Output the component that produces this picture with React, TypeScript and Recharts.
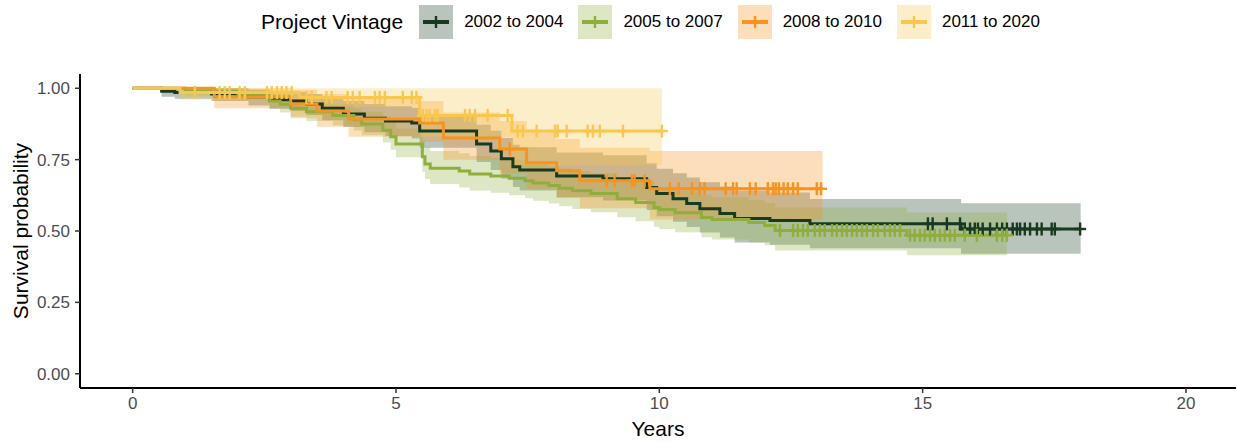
import { ComposedChart, Area, Line, Scatter, XAxis, YAxis, Legend } from 'recharts'

const FONT = '"Liberation Sans", Arial, sans-serif'

// 2002 to 2004
const t1 = [0, 0.55, 0.8, 1.5, 2.2, 2.6, 3.0, 3.3, 3.6, 4.0, 4.4, 4.8, 5.3, 5.45, 6.53, 6.8, 7.0, 7.22, 7.35, 8.05, 8.93, 9.76, 9.95, 10.26, 10.52, 10.77, 11.15, 11.43, 12.1, 12.86, 15.73, 18.0]
const s1 = [1, 0.99, 0.985, 0.98, 0.97, 0.96, 0.955, 0.945, 0.93, 0.91, 0.895, 0.885, 0.878, 0.85, 0.805, 0.78, 0.753, 0.725, 0.714, 0.693, 0.683, 0.652, 0.631, 0.613, 0.596, 0.578, 0.561, 0.544, 0.537, 0.525, 0.507, 0.507]
const lo1 = [1, 0.97, 0.963, 0.955, 0.94, 0.928, 0.92, 0.906, 0.888, 0.864, 0.846, 0.833, 0.824, 0.792, 0.742, 0.714, 0.684, 0.654, 0.642, 0.618, 0.607, 0.574, 0.552, 0.532, 0.514, 0.495, 0.477, 0.46, 0.452, 0.44, 0.42, 0.42]
const hi1 = [1, 1, 1, 1, 0.995, 0.99, 0.987, 0.98, 0.97, 0.955, 0.945, 0.937, 0.932, 0.91, 0.872, 0.851, 0.826, 0.802, 0.793, 0.775, 0.765, 0.737, 0.718, 0.702, 0.687, 0.671, 0.656, 0.641, 0.635, 0.612, 0.597, 0.597]
const c1 = [15.1, 15.19, 15.46, 15.71, 15.8, 15.9, 15.99, 16.05, 16.14, 16.28, 16.41, 16.51, 16.6, 16.71, 16.79, 16.85, 16.94, 17.04, 17.17, 17.26, 17.45, 17.51, 17.99]

// 2005 to 2007
const t2 = [0, 1.0, 2.0, 2.6, 2.8, 3.0, 3.3, 3.8, 4.2, 4.35, 4.75, 4.9, 5.0, 5.5, 5.55, 5.65, 6.2, 6.4, 6.8, 7.15, 7.45, 7.6, 7.9, 8.1, 8.35, 8.7, 9.2, 9.55, 9.9, 10.0, 10.3, 10.8, 11.0, 11.7, 12.0, 12.2, 14.7, 16.6]
const s2 = [1, 0.99, 0.98, 0.955, 0.944, 0.93, 0.918, 0.905, 0.89, 0.875, 0.853, 0.83, 0.805, 0.76, 0.735, 0.72, 0.71, 0.7, 0.693, 0.685, 0.676, 0.668, 0.659, 0.65, 0.641, 0.631, 0.613, 0.6, 0.582, 0.575, 0.564, 0.547, 0.54, 0.53, 0.519, 0.502, 0.485, 0.485]
const lo2 = [1, 0.975, 0.96, 0.93, 0.915, 0.9, 0.885, 0.87, 0.852, 0.835, 0.81, 0.785, 0.758, 0.708, 0.682, 0.665, 0.652, 0.642, 0.634, 0.625, 0.615, 0.606, 0.596, 0.587, 0.577, 0.566, 0.548, 0.534, 0.515, 0.507, 0.496, 0.478, 0.47, 0.46, 0.45, 0.432, 0.415, 0.415]
const hi2 = [1, 1, 0.995, 0.98, 0.972, 0.962, 0.952, 0.942, 0.93, 0.918, 0.9, 0.88, 0.858, 0.817, 0.795, 0.78, 0.772, 0.763, 0.757, 0.75, 0.742, 0.735, 0.727, 0.719, 0.71, 0.702, 0.685, 0.674, 0.657, 0.65, 0.64, 0.625, 0.618, 0.608, 0.598, 0.582, 0.565, 0.565]
const c2 = [12.29, 12.54, 12.63, 12.73, 12.82, 12.95, 13.05, 13.14, 13.28, 13.37, 13.47, 13.56, 13.66, 13.75, 13.85, 13.94, 14.06, 14.15, 14.28, 14.38, 14.47, 14.57, 14.76, 14.85, 14.95, 15.04, 15.14, 15.23, 15.33, 15.42, 15.52, 15.61, 15.8, 16.03, 16.41, 16.51, 16.6]

// 2008 to 2010
const t3 = [0, 1.55, 3.0, 3.5, 4.1, 5.45, 5.9, 6.97, 7.48, 8.05, 8.49, 9.82, 13.1]
const s3 = [1, 0.97, 0.945, 0.92, 0.892, 0.878, 0.826, 0.787, 0.739, 0.711, 0.676, 0.648, 0.648]
const lo3 = [1, 0.93, 0.895, 0.865, 0.83, 0.812, 0.75, 0.702, 0.648, 0.616, 0.58, 0.54, 0.54]
const hi3 = [1, 1, 0.995, 0.98, 0.962, 0.955, 0.915, 0.885, 0.845, 0.822, 0.792, 0.78, 0.78]
const c3 = [7.16, 9.0, 9.15, 9.48, 9.53, 9.72, 10.2, 10.37, 10.62, 10.77, 10.86, 11.26, 11.4, 11.47, 11.72, 11.83, 12.06, 12.16, 12.21, 12.27, 12.36, 12.44, 12.54, 12.63, 12.99, 13.07]

// 2011 to 2020
const t4 = [0, 0.9, 3.17, 5.45, 7.2, 10.05]
const s4 = [1, 0.985, 0.968, 0.905, 0.85, 0.85]
const lo4 = [1, 0.96, 0.935, 0.83, 0.73, 0.73]
const hi4 = [1, 1, 1, 1, 1, 1]
const c4 = [1.18, 1.65, 1.75, 1.84, 2.03, 2.13, 2.55, 2.64, 2.74, 2.83, 2.92, 3.02, 3.3, 3.4, 3.68, 3.78, 4.08, 4.18, 4.31, 4.6, 4.69, 4.79, 5.13, 5.3, 5.39, 5.51, 5.58, 5.64, 5.74, 5.79, 6.31, 6.4, 6.5, 6.74, 7.12, 7.31, 7.41, 7.67, 8.02, 8.07, 8.24, 8.64, 8.74, 8.87, 9.31, 10.05]

const xTicks = [0, 5, 10, 15, 20]
const yTicks = [0, 0.25, 0.5, 0.75, 1]

const rows = (t: number[], s: number[], lo: number[], hi: number[]) =>
  t.map((x, i) => ({ x, s: s[i], band: [lo[i], hi[i]] }))

// y of a censor mark = value of the step curve at that time
const censor = (ct: number[], t: number[], s: number[]) =>
  ct.map((x) => {
    let k = 0
    for (let i = 0; i < t.length; i++) if (t[i] <= x) k = i
    return { x, y: s[k] }
  })

const groups = [
  { name: '2002 to 2004', color: '#173a20', data: rows(t1, s1, lo1, hi1), cens: censor(c1, t1, s1) },
  { name: '2005 to 2007', color: '#8fae3c', data: rows(t2, s2, lo2, hi2), cens: censor(c2, t2, s2) },
  { name: '2008 to 2010', color: '#f7931e', data: rows(t3, s3, lo3, hi3), cens: censor(c3, t3, s3) },
  { name: '2011 to 2020', color: '#f9c74f', data: rows(t4, s4, lo4, hi4), cens: censor(c4, t4, s4) },
]

const plus = (color: string) => (props: any) => {
  const { cx, cy } = props
  return (
    <g stroke={color} strokeWidth={2.4}>
      <line x1={cx - 6} y1={cy} x2={cx + 6} y2={cy} />
      <line x1={cx} y1={cy - 6.5} x2={cx} y2={cy + 6.5} />
    </g>
  )
}

const renderLegend = () => (
  <div style={{ display: 'flex', alignItems: 'center', justifyContent: 'center', height: 40, fontFamily: FONT, color: '#000' }}>
    <span style={{ fontSize: 21, marginRight: 16 }}>Project Vintage</span>
    {groups.map((g) => (
      <div key={g.name} style={{ display: 'flex', alignItems: 'center', marginRight: 15 }}>
        <svg width={34} height={34}>
          <rect x={0} y={0} width={34} height={34} fill={g.color} fillOpacity={0.3} />
          <line x1={4} y1={17} x2={30} y2={17} stroke={g.color} strokeWidth={4} />
          <line x1={17} y1={11} x2={17} y2={23} stroke={g.color} strokeWidth={2.4} />
        </svg>
        <span style={{ fontSize: 17, marginLeft: 11 }}>{g.name}</span>
      </div>
    ))}
  </div>
)

export default function App() {
  return (
    <div style={{ position: 'absolute', left: 0, top: 0 }}>
      <ComposedChart width={1238} height={442} margin={{ top: 34, right: 2, left: 0, bottom: 0 }}>
        <XAxis
          dataKey="x"
          type="number"
          domain={[-1, 20.95]}
          ticks={xTicks}
          allowDataOverflow
          height={54}
          tickSize={5}
          tickMargin={4}
          tick={{ fill: '#4d4d4d', fontSize: 17, fontFamily: FONT }}
          axisLine={{ stroke: '#000', strokeWidth: 2 }}
          tickLine={{ stroke: '#333', strokeWidth: 1.5 }}
          label={{ value: 'Years', position: 'insideBottom', offset: 6, fill: '#000', fontSize: 21, fontFamily: FONT }}
        />
        <YAxis
          type="number"
          domain={[-0.05, 1.05]}
          ticks={yTicks}
          allowDataOverflow
          width={80}
          tickSize={5}
          tickMargin={5}
          tickFormatter={(v: number) => v.toFixed(2)}
          tick={{ fill: '#4d4d4d', fontSize: 17, fontFamily: FONT }}
          axisLine={{ stroke: '#000', strokeWidth: 2 }}
          tickLine={{ stroke: '#333', strokeWidth: 1.5 }}
          label={{ value: 'Survival probability', angle: -90, position: 'insideLeft', offset: 21, fill: '#000', fontSize: 21, fontFamily: FONT, style: { textAnchor: 'middle' } }}
        />
        <Legend verticalAlign="top" content={renderLegend} wrapperStyle={{ top: 2, left: 40, width: 1236 }} />
        {groups.map((g) => (
          <Area
            key={'band' + g.name}
            data={g.data}
            dataKey="band"
            type="stepAfter"
            fill={g.color}
            fillOpacity={0.3}
            stroke="none"
            isAnimationActive={false}
            legendType="none"
          />
        ))}
        {groups.map((g) => (
          <Line
            key={'line' + g.name}
            data={g.data}
            dataKey="s"
            type="stepAfter"
            stroke={g.color}
            strokeWidth={3}
            dot={false}
            isAnimationActive={false}
          />
        ))}
        {groups.map((g) => (
          <Scatter
            key={'cens' + g.name}
            data={g.cens}
            dataKey="y"
            shape={plus(g.color)}
            isAnimationActive={false}
          />
        ))}
      </ComposedChart>
    </div>
  )
}
